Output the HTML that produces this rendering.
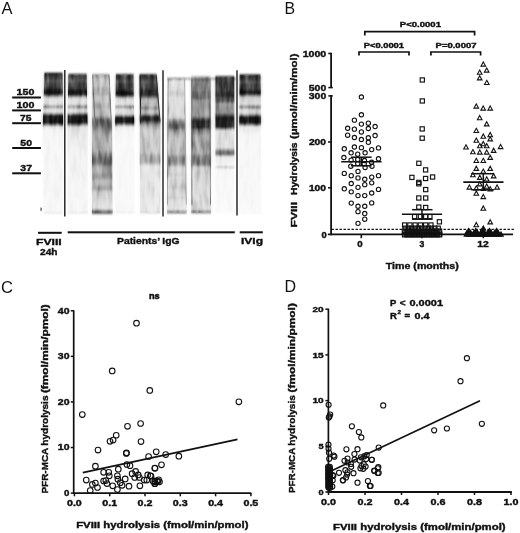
<!DOCTYPE html>
<html><head><meta charset="utf-8"><style>
html,body{margin:0;padding:0;background:#fff;width:520px;height:533px;overflow:hidden}
svg{display:block;font-family:"Liberation Sans",sans-serif}
text{fill:#111;stroke:#111;stroke-width:0.38px}
</style></head><body>
<svg width="520" height="533" viewBox="0 0 520 533">
<defs>
<linearGradient id="gL1" gradientUnits="userSpaceOnUse" x1="0" y1="73.0" x2="0" y2="213.5">
<stop offset="0.0000" stop-color="#0f0f0f"/>
<stop offset="0.0107" stop-color="#2d2d2d"/>
<stop offset="0.0285" stop-color="#464646"/>
<stop offset="0.0427" stop-color="#3e3e3e"/>
<stop offset="0.0555" stop-color="#646464"/>
<stop offset="0.0676" stop-color="#484848"/>
<stop offset="0.0925" stop-color="#424242"/>
<stop offset="0.1068" stop-color="#373737"/>
<stop offset="0.1210" stop-color="#161616"/>
<stop offset="0.1495" stop-color="#121212"/>
<stop offset="0.1601" stop-color="#505050"/>
<stop offset="0.1708" stop-color="#c8c8c8"/>
<stop offset="0.1851" stop-color="#e4e4e4"/>
<stop offset="0.2242" stop-color="#dedede"/>
<stop offset="0.2370" stop-color="#878787"/>
<stop offset="0.2470" stop-color="#969696"/>
<stop offset="0.2562" stop-color="#e1e1e1"/>
<stop offset="0.2811" stop-color="#d7d7d7"/>
<stop offset="0.2918" stop-color="#505050"/>
<stop offset="0.3025" stop-color="#191919"/>
<stop offset="0.3559" stop-color="#141414"/>
<stop offset="0.3665" stop-color="#5a5a5a"/>
<stop offset="0.3808" stop-color="#e8e8e8"/>
<stop offset="0.4057" stop-color="#f5f5f5"/>
<stop offset="0.9858" stop-color="#f8f8f8"/>
<stop offset="0.9929" stop-color="#e1e1e1"/>
<stop offset="1.0000" stop-color="#f8f8f8"/>
</linearGradient>
<linearGradient id="gL2" gradientUnits="userSpaceOnUse" x1="0" y1="74.3" x2="0" y2="213.5">
<stop offset="0.0000" stop-color="#191919"/>
<stop offset="0.0108" stop-color="#373737"/>
<stop offset="0.0338" stop-color="#484848"/>
<stop offset="0.0481" stop-color="#646464"/>
<stop offset="0.0625" stop-color="#484848"/>
<stop offset="0.0984" stop-color="#3a3a3a"/>
<stop offset="0.1164" stop-color="#161616"/>
<stop offset="0.1451" stop-color="#121212"/>
<stop offset="0.1559" stop-color="#505050"/>
<stop offset="0.1667" stop-color="#c8c8c8"/>
<stop offset="0.1810" stop-color="#e1e1e1"/>
<stop offset="0.2170" stop-color="#dcdcdc"/>
<stop offset="0.2299" stop-color="#878787"/>
<stop offset="0.2399" stop-color="#969696"/>
<stop offset="0.2493" stop-color="#dedede"/>
<stop offset="0.2744" stop-color="#d4d4d4"/>
<stop offset="0.2852" stop-color="#505050"/>
<stop offset="0.2960" stop-color="#191919"/>
<stop offset="0.3499" stop-color="#141414"/>
<stop offset="0.3606" stop-color="#5f5f5f"/>
<stop offset="0.3750" stop-color="#dedede"/>
<stop offset="0.4145" stop-color="#e8e8e8"/>
<stop offset="0.5438" stop-color="#f2f2f2"/>
<stop offset="0.9856" stop-color="#f7f7f7"/>
<stop offset="0.9928" stop-color="#dedede"/>
<stop offset="1.0000" stop-color="#f7f7f7"/>
</linearGradient>
<linearGradient id="gL3" gradientUnits="userSpaceOnUse" x1="0" y1="74.5" x2="0" y2="213.6">
<stop offset="0.0000" stop-color="#787878"/>
<stop offset="0.0079" stop-color="#afafaf"/>
<stop offset="0.0395" stop-color="#c6c6c6"/>
<stop offset="0.0827" stop-color="#c0c0c0"/>
<stop offset="0.0971" stop-color="#aaaaaa"/>
<stop offset="0.1459" stop-color="#a5a5a5"/>
<stop offset="0.1546" stop-color="#bebebe"/>
<stop offset="0.1977" stop-color="#c3c3c3"/>
<stop offset="0.2121" stop-color="#b2b2b2"/>
<stop offset="0.2408" stop-color="#b2b2b2"/>
<stop offset="0.2552" stop-color="#c3c3c3"/>
<stop offset="0.2983" stop-color="#b9b9b9"/>
<stop offset="0.3127" stop-color="#828282"/>
<stop offset="0.3307" stop-color="#585858"/>
<stop offset="0.3559" stop-color="#585858"/>
<stop offset="0.3774" stop-color="#6e6e6e"/>
<stop offset="0.4062" stop-color="#969696"/>
<stop offset="0.4349" stop-color="#acacac"/>
<stop offset="0.5428" stop-color="#aaaaaa"/>
<stop offset="0.5715" stop-color="#8c8c8c"/>
<stop offset="0.6003" stop-color="#6e6e6e"/>
<stop offset="0.6219" stop-color="#646464"/>
<stop offset="0.6434" stop-color="#6e6e6e"/>
<stop offset="0.6650" stop-color="#a5a5a5"/>
<stop offset="0.7009" stop-color="#aaaaaa"/>
<stop offset="0.7153" stop-color="#989898"/>
<stop offset="0.7441" stop-color="#989898"/>
<stop offset="0.7584" stop-color="#b6b6b6"/>
<stop offset="0.7944" stop-color="#b8b8b8"/>
<stop offset="0.8088" stop-color="#a2a2a2"/>
<stop offset="0.8267" stop-color="#a5a5a5"/>
<stop offset="0.8447" stop-color="#cdcdcd"/>
<stop offset="0.9022" stop-color="#d7d7d7"/>
<stop offset="0.9669" stop-color="#e1e1e1"/>
<stop offset="0.9827" stop-color="#505050"/>
<stop offset="1.0000" stop-color="#585858"/>
</linearGradient>
<linearGradient id="gL4" gradientUnits="userSpaceOnUse" x1="0" y1="74.4" x2="0" y2="213">
<stop offset="0.0000" stop-color="#0f0f0f"/>
<stop offset="0.0173" stop-color="#3c3c3c"/>
<stop offset="0.0404" stop-color="#464646"/>
<stop offset="0.0534" stop-color="#626262"/>
<stop offset="0.0620" stop-color="#464646"/>
<stop offset="0.1126" stop-color="#383838"/>
<stop offset="0.1234" stop-color="#161616"/>
<stop offset="0.1486" stop-color="#121212"/>
<stop offset="0.1595" stop-color="#505050"/>
<stop offset="0.1717" stop-color="#d7d7d7"/>
<stop offset="0.2172" stop-color="#e2e2e2"/>
<stop offset="0.2316" stop-color="#878787"/>
<stop offset="0.2410" stop-color="#969696"/>
<stop offset="0.2496" stop-color="#e0e0e0"/>
<stop offset="0.2893" stop-color="#d7d7d7"/>
<stop offset="0.3016" stop-color="#505050"/>
<stop offset="0.3110" stop-color="#161616"/>
<stop offset="0.3506" stop-color="#141414"/>
<stop offset="0.3615" stop-color="#646464"/>
<stop offset="0.3759" stop-color="#ececec"/>
<stop offset="0.4156" stop-color="#f8f8f8"/>
<stop offset="0.9892" stop-color="#f9f9f9"/>
<stop offset="0.9964" stop-color="#e8e8e8"/>
<stop offset="1.0000" stop-color="#f9f9f9"/>
</linearGradient>
<linearGradient id="gL5" gradientUnits="userSpaceOnUse" x1="0" y1="74.6" x2="0" y2="213">
<stop offset="0.0000" stop-color="#1e1e1e"/>
<stop offset="0.0087" stop-color="#3c3c3c"/>
<stop offset="0.0390" stop-color="#464646"/>
<stop offset="0.0535" stop-color="#555555"/>
<stop offset="0.0679" stop-color="#414141"/>
<stop offset="0.0968" stop-color="#3c3c3c"/>
<stop offset="0.1134" stop-color="#232323"/>
<stop offset="0.1510" stop-color="#202020"/>
<stop offset="0.1655" stop-color="#6e6e6e"/>
<stop offset="0.1799" stop-color="#bcbcbc"/>
<stop offset="0.2269" stop-color="#bebebe"/>
<stop offset="0.2377" stop-color="#919191"/>
<stop offset="0.2486" stop-color="#9b9b9b"/>
<stop offset="0.2594" stop-color="#bebebe"/>
<stop offset="0.2847" stop-color="#b9b9b9"/>
<stop offset="0.2955" stop-color="#464646"/>
<stop offset="0.3064" stop-color="#232323"/>
<stop offset="0.3353" stop-color="#262626"/>
<stop offset="0.3497" stop-color="#787878"/>
<stop offset="0.3714" stop-color="#b4b4b4"/>
<stop offset="0.4003" stop-color="#c8c8c8"/>
<stop offset="0.5592" stop-color="#c8c8c8"/>
<stop offset="0.5882" stop-color="#a8a8a8"/>
<stop offset="0.6315" stop-color="#a5a5a5"/>
<stop offset="0.6604" stop-color="#e4e4e4"/>
<stop offset="0.9892" stop-color="#eaeaea"/>
<stop offset="0.9964" stop-color="#cdcdcd"/>
<stop offset="1.0000" stop-color="#eaeaea"/>
</linearGradient>
<linearGradient id="gL6" gradientUnits="userSpaceOnUse" x1="0" y1="78.5" x2="0" y2="213">
<stop offset="0.0000" stop-color="#969696"/>
<stop offset="0.0082" stop-color="#d7d7d7"/>
<stop offset="0.0201" stop-color="#e1e1e1"/>
<stop offset="0.0855" stop-color="#dedede"/>
<stop offset="0.1004" stop-color="#cdcdcd"/>
<stop offset="0.1227" stop-color="#cdcdcd"/>
<stop offset="0.1375" stop-color="#dedede"/>
<stop offset="0.2937" stop-color="#d4d4d4"/>
<stop offset="0.3086" stop-color="#969696"/>
<stop offset="0.3234" stop-color="#828282"/>
<stop offset="0.3383" stop-color="#646464"/>
<stop offset="0.3680" stop-color="#5f5f5f"/>
<stop offset="0.3829" stop-color="#919191"/>
<stop offset="0.4126" stop-color="#b4b4b4"/>
<stop offset="0.4424" stop-color="#c3c3c3"/>
<stop offset="0.5613" stop-color="#c0c0c0"/>
<stop offset="0.5836" stop-color="#969696"/>
<stop offset="0.6134" stop-color="#848484"/>
<stop offset="0.6431" stop-color="#969696"/>
<stop offset="0.6580" stop-color="#cdcdcd"/>
<stop offset="0.6952" stop-color="#d0d0d0"/>
<stop offset="0.7100" stop-color="#c4c4c4"/>
<stop offset="0.7323" stop-color="#d4d4d4"/>
<stop offset="0.7918" stop-color="#dadada"/>
<stop offset="0.8067" stop-color="#d0d0d0"/>
<stop offset="0.8290" stop-color="#dcdcdc"/>
<stop offset="0.8736" stop-color="#dadada"/>
<stop offset="0.8885" stop-color="#d0d0d0"/>
<stop offset="0.9033" stop-color="#dedede"/>
<stop offset="0.9777" stop-color="#e2e2e2"/>
<stop offset="0.9888" stop-color="#6e6e6e"/>
<stop offset="1.0000" stop-color="#6e6e6e"/>
</linearGradient>
<linearGradient id="gL7" gradientUnits="userSpaceOnUse" x1="0" y1="76.5" x2="0" y2="213">
<stop offset="0.0000" stop-color="#aaaaaa"/>
<stop offset="0.0139" stop-color="#bebebe"/>
<stop offset="0.0198" stop-color="#505050"/>
<stop offset="0.0271" stop-color="#787878"/>
<stop offset="0.0989" stop-color="#767676"/>
<stop offset="0.1172" stop-color="#646464"/>
<stop offset="0.1648" stop-color="#696969"/>
<stop offset="0.1722" stop-color="#969696"/>
<stop offset="0.2894" stop-color="#969696"/>
<stop offset="0.3040" stop-color="#646464"/>
<stop offset="0.3187" stop-color="#282828"/>
<stop offset="0.3773" stop-color="#232323"/>
<stop offset="0.3919" stop-color="#6e6e6e"/>
<stop offset="0.4359" stop-color="#a5a5a5"/>
<stop offset="0.5604" stop-color="#acacac"/>
<stop offset="0.5824" stop-color="#828282"/>
<stop offset="0.6190" stop-color="#6e6e6e"/>
<stop offset="0.6484" stop-color="#7d7d7d"/>
<stop offset="0.6630" stop-color="#cecece"/>
<stop offset="0.7216" stop-color="#d4d4d4"/>
<stop offset="0.7949" stop-color="#d7d7d7"/>
<stop offset="0.9780" stop-color="#dadada"/>
<stop offset="0.9890" stop-color="#828282"/>
<stop offset="1.0000" stop-color="#828282"/>
</linearGradient>
<linearGradient id="gL8" gradientUnits="userSpaceOnUse" x1="0" y1="76.5" x2="0" y2="213">
<stop offset="0.0000" stop-color="#282828"/>
<stop offset="0.0139" stop-color="#2d2d2d"/>
<stop offset="0.0256" stop-color="#3e3e3e"/>
<stop offset="0.1062" stop-color="#3c3c3c"/>
<stop offset="0.1209" stop-color="#2d2d2d"/>
<stop offset="0.1465" stop-color="#2d2d2d"/>
<stop offset="0.1575" stop-color="#4b4b4b"/>
<stop offset="0.1868" stop-color="#4e4e4e"/>
<stop offset="0.1978" stop-color="#969696"/>
<stop offset="0.2674" stop-color="#989898"/>
<stop offset="0.2821" stop-color="#505050"/>
<stop offset="0.3004" stop-color="#1e1e1e"/>
<stop offset="0.3736" stop-color="#1e1e1e"/>
<stop offset="0.3956" stop-color="#dcdcdc"/>
<stop offset="0.5238" stop-color="#e1e1e1"/>
<stop offset="0.5385" stop-color="#969696"/>
<stop offset="0.5531" stop-color="#696969"/>
<stop offset="0.5751" stop-color="#6e6e6e"/>
<stop offset="0.5861" stop-color="#ebebeb"/>
<stop offset="0.6557" stop-color="#f5f5f5"/>
<stop offset="0.6652" stop-color="#b4b4b4"/>
<stop offset="0.6747" stop-color="#f7f7f7"/>
<stop offset="1.0000" stop-color="#fafafa"/>
</linearGradient>
<linearGradient id="gL9" gradientUnits="userSpaceOnUse" x1="0" y1="74.8" x2="0" y2="214">
<stop offset="0.0000" stop-color="#0f0f0f"/>
<stop offset="0.0122" stop-color="#323232"/>
<stop offset="0.0374" stop-color="#444444"/>
<stop offset="0.0517" stop-color="#5f5f5f"/>
<stop offset="0.0661" stop-color="#444444"/>
<stop offset="0.1020" stop-color="#373737"/>
<stop offset="0.1128" stop-color="#161616"/>
<stop offset="0.1394" stop-color="#141414"/>
<stop offset="0.1487" stop-color="#5a5a5a"/>
<stop offset="0.1595" stop-color="#cdcdcd"/>
<stop offset="0.2134" stop-color="#dedede"/>
<stop offset="0.2277" stop-color="#878787"/>
<stop offset="0.2385" stop-color="#969696"/>
<stop offset="0.2493" stop-color="#dedede"/>
<stop offset="0.2816" stop-color="#d4d4d4"/>
<stop offset="0.2924" stop-color="#505050"/>
<stop offset="0.3032" stop-color="#161616"/>
<stop offset="0.3463" stop-color="#141414"/>
<stop offset="0.3570" stop-color="#5f5f5f"/>
<stop offset="0.3714" stop-color="#eaeaea"/>
<stop offset="0.4325" stop-color="#f6f6f6"/>
<stop offset="1.0000" stop-color="#f9f9f9"/>
</linearGradient>
<filter id="halo" x="-20%" y="-20%" width="140%" height="140%"><feGaussianBlur stdDeviation="1.8"/></filter>
<filter id="gblur" x="-10%" y="-10%" width="120%" height="120%"><feGaussianBlur stdDeviation="0.6 1.1"/></filter>
<filter id="noise" x="0" y="0" width="100%" height="100%" color-interpolation-filters="sRGB"><feTurbulence type="fractalNoise" baseFrequency="0.22 0.05" numOctaves="2" seed="7" result="t"/><feColorMatrix in="t" type="matrix" values="1.3 0 0 0 -0.15  1.3 0 0 0 -0.15  1.3 0 0 0 -0.15  0 0 0 0 1"/></filter>
<clipPath id="laneclip"><polygon points="44.50,73.00 62.50,73.00 63.20,126.00 63.00,213.50 43.50,213.50 42.80,126.00"/><polygon points="68.40,74.30 86.60,74.30 87.60,126.00 87.60,213.50 67.80,213.50 67.60,126.00"/><polygon points="92.30,74.50 109.20,74.50 112.00,130.00 112.50,213.60 92.00,213.60"/><polygon points="115.90,74.40 133.50,74.40 134.30,126.00 134.30,213.00 115.40,213.00 115.20,126.00"/><polygon points="139.60,74.60 156.50,74.60 160.40,122.00 160.40,213.00 140.00,213.00"/><polygon points="167.70,78.50 184.50,78.50 186.50,213.00 167.00,213.00"/><polygon points="191.30,76.50 210.40,76.50 211.00,213.00 191.30,213.00"/><polygon points="215.50,76.50 234.30,76.50 234.30,213.00 215.50,213.00"/><polygon points="239.60,74.80 260.50,74.80 261.00,126.00 261.00,214.00 239.30,214.00 239.30,126.00"/></clipPath>
</defs>
<rect x="0" y="0" width="520" height="533" fill="#fff"/>
<g filter="url(#halo)" opacity="0.45">
<polygon points="44.50,73.00 62.50,73.00 63.20,126.00 63.00,213.50 43.50,213.50 42.80,126.00" fill="url(#gL1)"/>
<polygon points="68.40,74.30 86.60,74.30 87.60,126.00 87.60,213.50 67.80,213.50 67.60,126.00" fill="url(#gL2)"/>
<polygon points="92.30,74.50 109.20,74.50 112.00,130.00 112.50,213.60 92.00,213.60" fill="url(#gL3)"/>
<polygon points="115.90,74.40 133.50,74.40 134.30,126.00 134.30,213.00 115.40,213.00 115.20,126.00" fill="url(#gL4)"/>
<polygon points="139.60,74.60 156.50,74.60 160.40,122.00 160.40,213.00 140.00,213.00" fill="url(#gL5)"/>
<polygon points="167.70,78.50 184.50,78.50 186.50,213.00 167.00,213.00" fill="url(#gL6)"/>
<polygon points="191.30,76.50 210.40,76.50 211.00,213.00 191.30,213.00" fill="url(#gL7)"/>
<polygon points="215.50,76.50 234.30,76.50 234.30,213.00 215.50,213.00" fill="url(#gL8)"/>
<polygon points="239.60,74.80 260.50,74.80 261.00,126.00 261.00,214.00 239.30,214.00 239.30,126.00" fill="url(#gL9)"/>
</g>
<g filter="url(#gblur)">
<polygon points="44.50,73.00 62.50,73.00 63.20,126.00 63.00,213.50 43.50,213.50 42.80,126.00" fill="url(#gL1)"/>
<polygon points="68.40,74.30 86.60,74.30 87.60,126.00 87.60,213.50 67.80,213.50 67.60,126.00" fill="url(#gL2)"/>
<polygon points="92.30,74.50 109.20,74.50 112.00,130.00 112.50,213.60 92.00,213.60" fill="url(#gL3)"/>
<polygon points="115.90,74.40 133.50,74.40 134.30,126.00 134.30,213.00 115.40,213.00 115.20,126.00" fill="url(#gL4)"/>
<polygon points="139.60,74.60 156.50,74.60 160.40,122.00 160.40,213.00 140.00,213.00" fill="url(#gL5)"/>
<polygon points="167.70,78.50 184.50,78.50 186.50,213.00 167.00,213.00" fill="url(#gL6)"/>
<polygon points="191.30,76.50 210.40,76.50 211.00,213.00 191.30,213.00" fill="url(#gL7)"/>
<polygon points="215.50,76.50 234.30,76.50 234.30,213.00 215.50,213.00" fill="url(#gL8)"/>
<polygon points="239.60,74.80 260.50,74.80 261.00,126.00 261.00,214.00 239.30,214.00 239.30,126.00" fill="url(#gL9)"/>
<line x1="92.8" y1="75" x2="95" y2="130" stroke="#777" stroke-width="1.0"/>
<line x1="109.0" y1="75" x2="111.6" y2="130" stroke="#777" stroke-width="1.0"/>
<line x1="140.2" y1="75" x2="140.6" y2="124" stroke="#222" stroke-width="1.2"/>
<line x1="156.3" y1="75" x2="160" y2="122" stroke="#333" stroke-width="1.0"/>
<line x1="168.2" y1="79" x2="167.4" y2="205" stroke="#8a8a8a" stroke-width="0.8"/>
<line x1="184.6" y1="79" x2="186.3" y2="205" stroke="#9a9a9a" stroke-width="0.8"/>
<line x1="191.9" y1="79" x2="191.9" y2="205" stroke="#6a6a6a" stroke-width="0.9"/>
<line x1="209.8" y1="79" x2="210.5" y2="205" stroke="#777" stroke-width="0.9"/>
<line x1="167" y1="78.8" x2="236" y2="78.8" stroke="#444" stroke-width="0.9"/>
</g>
<g clip-path="url(#laneclip)" style="mix-blend-mode:soft-light" opacity="0.9"><rect x="40" y="70" width="225" height="146" filter="url(#noise)"/></g>
<rect x="40.3" y="207.6" width="1.6" height="3.2" fill="#777"/>
<line x1="64.8" y1="70.0" x2="64.8" y2="216.5" stroke="#1a1a1a" stroke-width="1.4"/>
<line x1="163.0" y1="70.3" x2="163.0" y2="216.4" stroke="#1a1a1a" stroke-width="1.4"/>
<line x1="237.0" y1="70.2" x2="237.0" y2="215.6" stroke="#1a1a1a" stroke-width="1.4"/>
<text x="1.60" y="13.90" font-size="16.4" font-weight="normal" textLength="11.00" lengthAdjust="spacingAndGlyphs" style="stroke:none">A</text>
<text x="284.60" y="13.90" font-size="16.4" font-weight="normal" textLength="10.60" lengthAdjust="spacingAndGlyphs" style="stroke:none">B</text>
<text x="0.90" y="292.50" font-size="15.6" font-weight="normal" textLength="12.00" lengthAdjust="spacingAndGlyphs" style="stroke:none">C</text>
<text x="284.40" y="292.20" font-size="15.6" font-weight="normal" textLength="11.60" lengthAdjust="spacingAndGlyphs" style="stroke:none">D</text>
<rect x="12.20" y="96.50" width="28.70" height="2.00" fill="#111"/>
<rect x="12.20" y="109.40" width="28.70" height="2.00" fill="#111"/>
<rect x="12.20" y="122.20" width="28.70" height="2.00" fill="#111"/>
<rect x="12.20" y="147.00" width="28.70" height="2.00" fill="#111"/>
<rect x="12.20" y="172.30" width="28.70" height="2.00" fill="#111"/>
<text x="16.50" y="95.00" font-size="9.2" font-weight="bold" textLength="17.90" lengthAdjust="spacingAndGlyphs">150</text>
<text x="16.50" y="107.80" font-size="9.2" font-weight="bold" textLength="17.90" lengthAdjust="spacingAndGlyphs">100</text>
<text x="20.00" y="121.00" font-size="9.2" font-weight="bold" textLength="11.40" lengthAdjust="spacingAndGlyphs">75</text>
<text x="20.30" y="145.70" font-size="9.2" font-weight="bold" textLength="11.70" lengthAdjust="spacingAndGlyphs">50</text>
<text x="20.30" y="171.00" font-size="9.2" font-weight="bold" textLength="11.70" lengthAdjust="spacingAndGlyphs">37</text>
<rect x="38.00" y="231.80" width="23.70" height="2.00" fill="#111"/>
<rect x="67.70" y="231.30" width="167.10" height="2.00" fill="#111"/>
<rect x="239.70" y="231.30" width="23.10" height="2.00" fill="#111"/>
<text x="36.00" y="245.00" font-size="9.5" font-weight="bold" textLength="25.70" lengthAdjust="spacingAndGlyphs">FVIII</text>
<text x="40.00" y="255.40" font-size="9.6" font-weight="bold" textLength="17.50" lengthAdjust="spacingAndGlyphs">24h</text>
<text x="117.00" y="244.40" font-size="9.5" font-weight="bold" textLength="62.60" lengthAdjust="spacingAndGlyphs">Patients’ IgG</text>
<text x="241.00" y="244.40" font-size="9.5" font-weight="bold" textLength="22.00" lengthAdjust="spacingAndGlyphs">IVIg</text>
<polyline points="364.80,35.50 364.80,31.70 474.60,31.70 474.60,35.50" fill="none" stroke="#111" stroke-width="1.7" stroke-linejoin="miter"/>
<polyline points="359.00,55.60 359.00,52.00 409.00,52.00 409.00,55.60" fill="none" stroke="#111" stroke-width="1.7" stroke-linejoin="miter"/>
<polyline points="430.90,55.60 430.90,52.00 480.60,52.00 480.60,55.60" fill="none" stroke="#111" stroke-width="1.7" stroke-linejoin="miter"/>
<text x="399.80" y="26.60" font-size="7.6" font-weight="bold" textLength="41.20" lengthAdjust="spacingAndGlyphs">P&lt;0.0001</text>
<text x="363.70" y="47.90" font-size="7.6" font-weight="bold" textLength="40.30" lengthAdjust="spacingAndGlyphs">P&lt;0.0001</text>
<text x="435.60" y="47.70" font-size="7.6" font-weight="bold" textLength="40.90" lengthAdjust="spacingAndGlyphs">P=0.0007</text>
<line x1="331.10" y1="52.70" x2="331.10" y2="87.60" stroke="#111" stroke-width="1.8"/>
<line x1="328.30" y1="53.50" x2="331.10" y2="53.50" stroke="#111" stroke-width="1.6"/>
<line x1="328.30" y1="87.60" x2="332.80" y2="87.60" stroke="#111" stroke-width="1.5"/>
<line x1="328.30" y1="95.90" x2="332.80" y2="95.90" stroke="#111" stroke-width="1.5"/>
<line x1="331.10" y1="95.20" x2="331.10" y2="235.20" stroke="#111" stroke-width="1.8"/>
<line x1="328.00" y1="142.00" x2="331.10" y2="142.00" stroke="#111" stroke-width="1.5"/>
<line x1="328.00" y1="187.80" x2="331.10" y2="187.80" stroke="#111" stroke-width="1.5"/>
<line x1="327.90" y1="234.40" x2="513.00" y2="234.40" stroke="#111" stroke-width="1.8"/>
<line x1="361.30" y1="234.40" x2="361.30" y2="238.20" stroke="#111" stroke-width="1.6"/>
<line x1="422.00" y1="234.40" x2="422.00" y2="238.20" stroke="#111" stroke-width="1.6"/>
<line x1="483.30" y1="234.40" x2="483.30" y2="238.20" stroke="#111" stroke-width="1.6"/>
<line x1="331.50" y1="229.40" x2="514.00" y2="229.40" stroke="#111" stroke-width="1.2" stroke-dasharray="2.4,1.6"/>
<text x="302.70" y="56.60" font-size="8.2" font-weight="bold" textLength="23.50" lengthAdjust="spacingAndGlyphs">1000</text>
<text x="308.80" y="90.80" font-size="8.2" font-weight="bold" textLength="17.40" lengthAdjust="spacingAndGlyphs">500</text>
<text x="308.80" y="98.80" font-size="8.2" font-weight="bold" textLength="17.40" lengthAdjust="spacingAndGlyphs">300</text>
<text x="308.90" y="145.30" font-size="8.2" font-weight="bold" textLength="17.10" lengthAdjust="spacingAndGlyphs">200</text>
<text x="308.90" y="190.70" font-size="8.2" font-weight="bold" textLength="17.10" lengthAdjust="spacingAndGlyphs">100</text>
<text x="321.50" y="237.50" font-size="8.2" font-weight="bold" textLength="5.20" lengthAdjust="spacingAndGlyphs">0</text>
<text x="357.30" y="246.70" font-size="8.6" font-weight="bold" textLength="5.40" lengthAdjust="spacingAndGlyphs">0</text>
<text x="419.60" y="246.80" font-size="8.6" font-weight="bold" textLength="4.80" lengthAdjust="spacingAndGlyphs">3</text>
<text x="477.30" y="246.80" font-size="8.6" font-weight="bold" textLength="11.50" lengthAdjust="spacingAndGlyphs">12</text>
<text x="385.80" y="268.80" font-size="9.4" font-weight="bold" textLength="73.00" lengthAdjust="spacingAndGlyphs">Time (months)</text>
<text transform="translate(297.30,227.50) rotate(-90)" x="0" y="0" font-size="9.8" font-weight="bold" textLength="25.60" lengthAdjust="spacingAndGlyphs">FVIII</text>
<text transform="translate(297.30,195.00) rotate(-90)" x="0" y="0" font-size="9.8" font-weight="bold" textLength="52.50" lengthAdjust="spacingAndGlyphs">Hydrolysis</text>
<text transform="translate(297.30,138.90) rotate(-90)" x="0" y="0" font-size="9.8" font-weight="bold" textLength="85.40" lengthAdjust="spacingAndGlyphs">(µmol/mim/mol)</text>
<line x1="73.70" y1="310.20" x2="73.70" y2="493.90" stroke="#111" stroke-width="1.7"/>
<line x1="73.00" y1="493.10" x2="251.30" y2="493.10" stroke="#111" stroke-width="1.8"/>
<line x1="70.80" y1="493.10" x2="73.70" y2="493.10" stroke="#111" stroke-width="1.5"/>
<line x1="70.80" y1="447.52" x2="73.70" y2="447.52" stroke="#111" stroke-width="1.5"/>
<line x1="70.80" y1="401.94" x2="73.70" y2="401.94" stroke="#111" stroke-width="1.5"/>
<line x1="70.80" y1="356.36" x2="73.70" y2="356.36" stroke="#111" stroke-width="1.5"/>
<line x1="70.80" y1="310.78" x2="73.70" y2="310.78" stroke="#111" stroke-width="1.5"/>
<line x1="74.40" y1="493.10" x2="74.40" y2="496.30" stroke="#111" stroke-width="1.5"/>
<line x1="109.70" y1="493.10" x2="109.70" y2="496.30" stroke="#111" stroke-width="1.5"/>
<line x1="145.00" y1="493.10" x2="145.00" y2="496.30" stroke="#111" stroke-width="1.5"/>
<line x1="180.30" y1="493.10" x2="180.30" y2="496.30" stroke="#111" stroke-width="1.5"/>
<line x1="215.60" y1="493.10" x2="215.60" y2="496.30" stroke="#111" stroke-width="1.5"/>
<line x1="250.90" y1="493.10" x2="250.90" y2="496.30" stroke="#111" stroke-width="1.5"/>
<text x="57.80" y="313.53" font-size="8.2" font-weight="bold" textLength="11.70" lengthAdjust="spacingAndGlyphs">40</text>
<text x="57.80" y="359.11" font-size="8.2" font-weight="bold" textLength="11.70" lengthAdjust="spacingAndGlyphs">30</text>
<text x="57.80" y="404.69" font-size="8.2" font-weight="bold" textLength="11.70" lengthAdjust="spacingAndGlyphs">20</text>
<text x="57.80" y="450.27" font-size="8.2" font-weight="bold" textLength="11.70" lengthAdjust="spacingAndGlyphs">10</text>
<text x="64.10" y="495.85" font-size="8.2" font-weight="bold" textLength="5.40" lengthAdjust="spacingAndGlyphs">0</text>
<text x="66.95" y="505.60" font-size="8.4" font-weight="bold" textLength="14.90" lengthAdjust="spacingAndGlyphs">0.0</text>
<text x="102.25" y="505.60" font-size="8.4" font-weight="bold" textLength="14.90" lengthAdjust="spacingAndGlyphs">0.1</text>
<text x="137.55" y="505.60" font-size="8.4" font-weight="bold" textLength="14.90" lengthAdjust="spacingAndGlyphs">0.2</text>
<text x="172.85" y="505.60" font-size="8.4" font-weight="bold" textLength="14.90" lengthAdjust="spacingAndGlyphs">0.3</text>
<text x="208.15" y="505.60" font-size="8.4" font-weight="bold" textLength="14.90" lengthAdjust="spacingAndGlyphs">0.4</text>
<text x="243.45" y="505.60" font-size="8.4" font-weight="bold" textLength="14.90" lengthAdjust="spacingAndGlyphs">0.5</text>
<text x="148.90" y="298.50" font-size="9.6" font-weight="bold" textLength="10.80" lengthAdjust="spacingAndGlyphs" style="stroke-width:0.55px">ns</text>
<text x="76.20" y="528.10" font-size="9.2" font-weight="bold" textLength="172.30" lengthAdjust="spacingAndGlyphs">FVIII hydrolysis (fmol/min/pmol)</text>
<text transform="translate(47.50,493.50) rotate(-90)" x="0" y="0" font-size="9.3" font-weight="bold" textLength="45.80" lengthAdjust="spacingAndGlyphs">PFR-MCA</text>
<text transform="translate(47.50,445.70) rotate(-90)" x="0" y="0" font-size="9.3" font-weight="bold" textLength="50.20" lengthAdjust="spacingAndGlyphs">hydrolysis</text>
<text transform="translate(47.50,393.10) rotate(-90)" x="0" y="0" font-size="9.3" font-weight="bold" textLength="88.80" lengthAdjust="spacingAndGlyphs">(fmol/min/pmol)</text>
<line x1="328.40" y1="308.60" x2="328.40" y2="492.80" stroke="#111" stroke-width="1.7"/>
<line x1="327.60" y1="492.00" x2="511.80" y2="492.00" stroke="#111" stroke-width="1.8"/>
<line x1="325.40" y1="492.00" x2="328.40" y2="492.00" stroke="#111" stroke-width="1.5"/>
<line x1="325.40" y1="446.30" x2="328.40" y2="446.30" stroke="#111" stroke-width="1.5"/>
<line x1="325.40" y1="400.60" x2="328.40" y2="400.60" stroke="#111" stroke-width="1.5"/>
<line x1="325.40" y1="354.90" x2="328.40" y2="354.90" stroke="#111" stroke-width="1.5"/>
<line x1="325.40" y1="309.20" x2="328.40" y2="309.20" stroke="#111" stroke-width="1.5"/>
<line x1="328.50" y1="492.00" x2="328.50" y2="495.00" stroke="#111" stroke-width="1.5"/>
<line x1="365.00" y1="492.00" x2="365.00" y2="495.00" stroke="#111" stroke-width="1.5"/>
<line x1="401.50" y1="492.00" x2="401.50" y2="495.00" stroke="#111" stroke-width="1.5"/>
<line x1="438.00" y1="492.00" x2="438.00" y2="495.00" stroke="#111" stroke-width="1.5"/>
<line x1="474.50" y1="492.00" x2="474.50" y2="495.00" stroke="#111" stroke-width="1.5"/>
<line x1="511.00" y1="492.00" x2="511.00" y2="495.00" stroke="#111" stroke-width="1.5"/>
<text x="312.50" y="312.00" font-size="8.0" font-weight="bold" textLength="11.20" lengthAdjust="spacingAndGlyphs">20</text>
<text x="312.50" y="357.70" font-size="8.0" font-weight="bold" textLength="11.20" lengthAdjust="spacingAndGlyphs">15</text>
<text x="312.50" y="403.40" font-size="8.0" font-weight="bold" textLength="11.20" lengthAdjust="spacingAndGlyphs">10</text>
<text x="318.60" y="449.10" font-size="8.0" font-weight="bold" textLength="5.10" lengthAdjust="spacingAndGlyphs">5</text>
<text x="318.60" y="494.80" font-size="8.0" font-weight="bold" textLength="5.10" lengthAdjust="spacingAndGlyphs">0</text>
<text x="321.00" y="505.00" font-size="8.4" font-weight="bold" textLength="15.00" lengthAdjust="spacingAndGlyphs">0.0</text>
<text x="357.50" y="505.00" font-size="8.4" font-weight="bold" textLength="15.00" lengthAdjust="spacingAndGlyphs">0.2</text>
<text x="394.00" y="505.00" font-size="8.4" font-weight="bold" textLength="15.00" lengthAdjust="spacingAndGlyphs">0.4</text>
<text x="430.50" y="505.00" font-size="8.4" font-weight="bold" textLength="15.00" lengthAdjust="spacingAndGlyphs">0.6</text>
<text x="467.00" y="505.00" font-size="8.4" font-weight="bold" textLength="15.00" lengthAdjust="spacingAndGlyphs">0.8</text>
<text x="503.50" y="505.00" font-size="8.4" font-weight="bold" textLength="15.00" lengthAdjust="spacingAndGlyphs">1.0</text>
<text x="390.00" y="306.25" font-size="8.7" font-weight="bold" textLength="6.25" lengthAdjust="spacingAndGlyphs">P</text>
<text x="399.75" y="306.25" font-size="8.7" font-weight="bold" textLength="5.85" lengthAdjust="spacingAndGlyphs">&lt;</text>
<text x="409.40" y="306.25" font-size="8.7" font-weight="bold" textLength="33.70" lengthAdjust="spacingAndGlyphs">0.0001</text>
<text x="390.00" y="318.75" font-size="8.7" font-weight="bold" textLength="6.90" lengthAdjust="spacingAndGlyphs">R</text>
<text x="397.50" y="313.75" font-size="5.6" font-weight="bold" textLength="3.50" lengthAdjust="spacingAndGlyphs">2</text>
<text x="404.40" y="318.75" font-size="8.7" font-weight="bold" textLength="5.60" lengthAdjust="spacingAndGlyphs">=</text>
<text x="414.40" y="318.75" font-size="8.7" font-weight="bold" textLength="15.00" lengthAdjust="spacingAndGlyphs">0.4</text>
<text x="333.00" y="530.00" font-size="9.2" font-weight="bold" textLength="172.60" lengthAdjust="spacingAndGlyphs">FVIII hydrolysis (fmol/min/pmol)</text>
<text transform="translate(295.20,493.00) rotate(-90)" x="0" y="0" font-size="9.3" font-weight="bold" textLength="45.30" lengthAdjust="spacingAndGlyphs">PFR-MCA</text>
<text transform="translate(295.20,445.70) rotate(-90)" x="0" y="0" font-size="9.3" font-weight="bold" textLength="50.60" lengthAdjust="spacingAndGlyphs">hydrolysis</text>
<text transform="translate(295.20,392.50) rotate(-90)" x="0" y="0" font-size="9.3" font-weight="bold" textLength="89.40" lengthAdjust="spacingAndGlyphs">(fmol/min/pmol)</text>
<circle cx="361.40" cy="97.00" r="2.15" fill="none" stroke="#111" stroke-width="1.1"/>
<circle cx="361.40" cy="114.75" r="2.15" fill="none" stroke="#111" stroke-width="1.1"/>
<circle cx="354.40" cy="120.15" r="2.15" fill="none" stroke="#111" stroke-width="1.1"/>
<circle cx="361.40" cy="124.10" r="2.15" fill="none" stroke="#111" stroke-width="1.1"/>
<circle cx="368.35" cy="123.20" r="2.15" fill="none" stroke="#111" stroke-width="1.1"/>
<circle cx="347.65" cy="128.25" r="2.15" fill="none" stroke="#111" stroke-width="1.1"/>
<circle cx="354.40" cy="129.15" r="2.15" fill="none" stroke="#111" stroke-width="1.1"/>
<circle cx="368.35" cy="128.50" r="2.15" fill="none" stroke="#111" stroke-width="1.1"/>
<circle cx="375.10" cy="126.55" r="2.15" fill="none" stroke="#111" stroke-width="1.1"/>
<circle cx="361.40" cy="131.95" r="2.15" fill="none" stroke="#111" stroke-width="1.1"/>
<circle cx="347.65" cy="135.20" r="2.15" fill="none" stroke="#111" stroke-width="1.1"/>
<circle cx="354.40" cy="137.50" r="2.15" fill="none" stroke="#111" stroke-width="1.1"/>
<circle cx="361.40" cy="139.50" r="2.15" fill="none" stroke="#111" stroke-width="1.1"/>
<circle cx="368.35" cy="137.80" r="2.15" fill="none" stroke="#111" stroke-width="1.1"/>
<circle cx="375.10" cy="135.55" r="2.15" fill="none" stroke="#111" stroke-width="1.1"/>
<circle cx="368.35" cy="142.30" r="2.15" fill="none" stroke="#111" stroke-width="1.1"/>
<circle cx="344.30" cy="148.80" r="2.15" fill="none" stroke="#111" stroke-width="1.1"/>
<circle cx="354.40" cy="147.00" r="2.15" fill="none" stroke="#111" stroke-width="1.1"/>
<circle cx="361.40" cy="147.65" r="2.15" fill="none" stroke="#111" stroke-width="1.1"/>
<circle cx="371.70" cy="149.60" r="2.15" fill="none" stroke="#111" stroke-width="1.1"/>
<circle cx="378.50" cy="147.90" r="2.15" fill="none" stroke="#111" stroke-width="1.1"/>
<circle cx="351.10" cy="152.80" r="2.15" fill="none" stroke="#111" stroke-width="1.1"/>
<circle cx="357.70" cy="154.20" r="2.15" fill="none" stroke="#111" stroke-width="1.1"/>
<circle cx="365.10" cy="152.80" r="2.15" fill="none" stroke="#111" stroke-width="1.1"/>
<circle cx="343.90" cy="157.50" r="2.15" fill="none" stroke="#111" stroke-width="1.1"/>
<circle cx="378.50" cy="158.80" r="2.15" fill="none" stroke="#111" stroke-width="1.1"/>
<circle cx="351.10" cy="160.10" r="2.15" fill="none" stroke="#111" stroke-width="1.1"/>
<circle cx="357.70" cy="159.50" r="2.15" fill="none" stroke="#111" stroke-width="1.1"/>
<circle cx="364.50" cy="160.50" r="2.15" fill="none" stroke="#111" stroke-width="1.1"/>
<circle cx="371.60" cy="162.30" r="2.15" fill="none" stroke="#111" stroke-width="1.1"/>
<circle cx="350.80" cy="166.20" r="2.15" fill="none" stroke="#111" stroke-width="1.1"/>
<circle cx="357.70" cy="163.60" r="2.15" fill="none" stroke="#111" stroke-width="1.1"/>
<circle cx="364.20" cy="163.80" r="2.15" fill="none" stroke="#111" stroke-width="1.1"/>
<circle cx="365.10" cy="167.50" r="2.15" fill="none" stroke="#111" stroke-width="1.1"/>
<circle cx="372.00" cy="166.20" r="2.15" fill="none" stroke="#111" stroke-width="1.1"/>
<circle cx="358.00" cy="171.40" r="2.15" fill="none" stroke="#111" stroke-width="1.1"/>
<circle cx="344.30" cy="173.40" r="2.15" fill="none" stroke="#111" stroke-width="1.1"/>
<circle cx="351.25" cy="175.65" r="2.15" fill="none" stroke="#111" stroke-width="1.1"/>
<circle cx="358.00" cy="177.90" r="2.15" fill="none" stroke="#111" stroke-width="1.1"/>
<circle cx="364.75" cy="179.25" r="2.15" fill="none" stroke="#111" stroke-width="1.1"/>
<circle cx="371.70" cy="177.20" r="2.15" fill="none" stroke="#111" stroke-width="1.1"/>
<circle cx="378.50" cy="175.65" r="2.15" fill="none" stroke="#111" stroke-width="1.1"/>
<circle cx="351.25" cy="183.50" r="2.15" fill="none" stroke="#111" stroke-width="1.1"/>
<circle cx="364.75" cy="184.65" r="2.15" fill="none" stroke="#111" stroke-width="1.1"/>
<circle cx="371.70" cy="182.85" r="2.15" fill="none" stroke="#111" stroke-width="1.1"/>
<circle cx="344.30" cy="188.80" r="2.15" fill="none" stroke="#111" stroke-width="1.1"/>
<circle cx="358.00" cy="187.35" r="2.15" fill="none" stroke="#111" stroke-width="1.1"/>
<circle cx="378.50" cy="189.40" r="2.15" fill="none" stroke="#111" stroke-width="1.1"/>
<circle cx="351.25" cy="191.85" r="2.15" fill="none" stroke="#111" stroke-width="1.1"/>
<circle cx="358.00" cy="195.60" r="2.15" fill="none" stroke="#111" stroke-width="1.1"/>
<circle cx="364.75" cy="195.60" r="2.15" fill="none" stroke="#111" stroke-width="1.1"/>
<circle cx="371.70" cy="193.00" r="2.15" fill="none" stroke="#111" stroke-width="1.1"/>
<circle cx="351.25" cy="203.10" r="2.15" fill="none" stroke="#111" stroke-width="1.1"/>
<circle cx="358.00" cy="206.25" r="2.15" fill="none" stroke="#111" stroke-width="1.1"/>
<circle cx="364.75" cy="206.25" r="2.15" fill="none" stroke="#111" stroke-width="1.1"/>
<circle cx="371.70" cy="202.90" r="2.15" fill="none" stroke="#111" stroke-width="1.1"/>
<circle cx="358.00" cy="211.65" r="2.15" fill="none" stroke="#111" stroke-width="1.1"/>
<circle cx="364.75" cy="213.55" r="2.15" fill="none" stroke="#111" stroke-width="1.1"/>
<circle cx="364.75" cy="219.20" r="2.15" fill="none" stroke="#111" stroke-width="1.1"/>
<circle cx="358.00" cy="223.35" r="2.15" fill="none" stroke="#111" stroke-width="1.1"/>
<line x1="341.20" y1="161.70" x2="381.60" y2="161.70" stroke="#111" stroke-width="1.6"/>
<line x1="351.00" y1="157.20" x2="371.60" y2="157.20" stroke="#111" stroke-width="1.5"/>
<line x1="351.00" y1="165.80" x2="371.60" y2="165.80" stroke="#111" stroke-width="1.5"/>
<line x1="361.30" y1="157.20" x2="361.30" y2="165.80" stroke="#111" stroke-width="1.5"/>
<rect x="420.20" y="77.85" width="4.2" height="4.2" fill="none" stroke="#111" stroke-width="1.15"/>
<rect x="420.20" y="98.85" width="4.2" height="4.2" fill="none" stroke="#111" stroke-width="1.15"/>
<rect x="420.10" y="126.80" width="4.2" height="4.2" fill="none" stroke="#111" stroke-width="1.15"/>
<rect x="420.10" y="136.10" width="4.2" height="4.2" fill="none" stroke="#111" stroke-width="1.15"/>
<rect x="416.75" y="161.20" width="4.2" height="4.2" fill="none" stroke="#111" stroke-width="1.15"/>
<rect x="423.50" y="167.80" width="4.2" height="4.2" fill="none" stroke="#111" stroke-width="1.15"/>
<rect x="409.80" y="175.30" width="4.2" height="4.2" fill="none" stroke="#111" stroke-width="1.15"/>
<rect x="423.50" y="176.40" width="4.2" height="4.2" fill="none" stroke="#111" stroke-width="1.15"/>
<rect x="430.50" y="174.90" width="4.2" height="4.2" fill="none" stroke="#111" stroke-width="1.15"/>
<rect x="416.70" y="180.30" width="4.2" height="4.2" fill="none" stroke="#111" stroke-width="1.15"/>
<rect x="416.70" y="181.70" width="4.2" height="4.2" fill="none" stroke="#111" stroke-width="1.15"/>
<rect x="423.60" y="187.50" width="4.2" height="4.2" fill="none" stroke="#111" stroke-width="1.15"/>
<rect x="416.70" y="195.90" width="4.2" height="4.2" fill="none" stroke="#111" stroke-width="1.15"/>
<rect x="423.60" y="195.90" width="4.2" height="4.2" fill="none" stroke="#111" stroke-width="1.15"/>
<rect x="416.70" y="205.00" width="4.2" height="4.2" fill="none" stroke="#111" stroke-width="1.15"/>
<rect x="423.60" y="205.40" width="4.2" height="4.2" fill="none" stroke="#111" stroke-width="1.15"/>
<rect x="412.50" y="214.50" width="4.2" height="4.2" fill="none" stroke="#111" stroke-width="1.15"/>
<rect x="418.30" y="214.50" width="4.2" height="4.2" fill="none" stroke="#111" stroke-width="1.15"/>
<rect x="423.60" y="214.50" width="4.2" height="4.2" fill="none" stroke="#111" stroke-width="1.15"/>
<rect x="427.80" y="214.50" width="4.2" height="4.2" fill="none" stroke="#111" stroke-width="1.15"/>
<rect x="437.30" y="219.70" width="4.2" height="4.2" fill="none" stroke="#111" stroke-width="1.15"/>
<rect x="402.50" y="222.90" width="4.2" height="4.2" fill="none" stroke="#111" stroke-width="1.15"/>
<rect x="407.77" y="222.90" width="4.2" height="4.2" fill="none" stroke="#111" stroke-width="1.15"/>
<rect x="413.04" y="222.90" width="4.2" height="4.2" fill="none" stroke="#111" stroke-width="1.15"/>
<rect x="418.31" y="222.90" width="4.2" height="4.2" fill="none" stroke="#111" stroke-width="1.15"/>
<rect x="423.58" y="222.90" width="4.2" height="4.2" fill="none" stroke="#111" stroke-width="1.15"/>
<rect x="428.85" y="222.90" width="4.2" height="4.2" fill="none" stroke="#111" stroke-width="1.15"/>
<rect x="403.10" y="226.10" width="4.2" height="4.2" fill="none" stroke="#111" stroke-width="1.15"/>
<rect x="406.40" y="226.10" width="4.2" height="4.2" fill="none" stroke="#111" stroke-width="1.15"/>
<rect x="409.70" y="226.10" width="4.2" height="4.2" fill="none" stroke="#111" stroke-width="1.15"/>
<rect x="413.00" y="226.10" width="4.2" height="4.2" fill="none" stroke="#111" stroke-width="1.15"/>
<rect x="416.30" y="226.10" width="4.2" height="4.2" fill="none" stroke="#111" stroke-width="1.15"/>
<rect x="419.60" y="226.10" width="4.2" height="4.2" fill="none" stroke="#111" stroke-width="1.15"/>
<rect x="422.90" y="226.10" width="4.2" height="4.2" fill="none" stroke="#111" stroke-width="1.15"/>
<rect x="426.20" y="226.10" width="4.2" height="4.2" fill="none" stroke="#111" stroke-width="1.15"/>
<rect x="429.50" y="226.10" width="4.2" height="4.2" fill="none" stroke="#111" stroke-width="1.15"/>
<rect x="432.80" y="226.10" width="4.2" height="4.2" fill="none" stroke="#111" stroke-width="1.15"/>
<rect x="436.10" y="226.10" width="4.2" height="4.2" fill="none" stroke="#111" stroke-width="1.15"/>
<rect x="402.30" y="229.10" width="4.2" height="4.2" fill="none" stroke="#111" stroke-width="1.15"/>
<rect x="405.23" y="229.10" width="4.2" height="4.2" fill="none" stroke="#111" stroke-width="1.15"/>
<rect x="408.16" y="229.10" width="4.2" height="4.2" fill="none" stroke="#111" stroke-width="1.15"/>
<rect x="411.09" y="229.10" width="4.2" height="4.2" fill="none" stroke="#111" stroke-width="1.15"/>
<rect x="414.02" y="229.10" width="4.2" height="4.2" fill="none" stroke="#111" stroke-width="1.15"/>
<rect x="416.95" y="229.10" width="4.2" height="4.2" fill="none" stroke="#111" stroke-width="1.15"/>
<rect x="419.88" y="229.10" width="4.2" height="4.2" fill="none" stroke="#111" stroke-width="1.15"/>
<rect x="422.81" y="229.10" width="4.2" height="4.2" fill="none" stroke="#111" stroke-width="1.15"/>
<rect x="425.74" y="229.10" width="4.2" height="4.2" fill="none" stroke="#111" stroke-width="1.15"/>
<rect x="428.67" y="229.10" width="4.2" height="4.2" fill="none" stroke="#111" stroke-width="1.15"/>
<rect x="431.60" y="229.10" width="4.2" height="4.2" fill="none" stroke="#111" stroke-width="1.15"/>
<rect x="434.53" y="229.10" width="4.2" height="4.2" fill="none" stroke="#111" stroke-width="1.15"/>
<rect x="437.46" y="229.10" width="4.2" height="4.2" fill="none" stroke="#111" stroke-width="1.15"/>
<rect x="402.50" y="231.90" width="4.2" height="4.2" fill="none" stroke="#111" stroke-width="1.15"/>
<rect x="405.00" y="231.90" width="4.2" height="4.2" fill="none" stroke="#111" stroke-width="1.15"/>
<rect x="407.50" y="231.90" width="4.2" height="4.2" fill="none" stroke="#111" stroke-width="1.15"/>
<rect x="410.00" y="231.90" width="4.2" height="4.2" fill="none" stroke="#111" stroke-width="1.15"/>
<rect x="412.50" y="231.90" width="4.2" height="4.2" fill="none" stroke="#111" stroke-width="1.15"/>
<rect x="415.00" y="231.90" width="4.2" height="4.2" fill="none" stroke="#111" stroke-width="1.15"/>
<rect x="417.50" y="231.90" width="4.2" height="4.2" fill="none" stroke="#111" stroke-width="1.15"/>
<rect x="420.00" y="231.90" width="4.2" height="4.2" fill="none" stroke="#111" stroke-width="1.15"/>
<rect x="422.50" y="231.90" width="4.2" height="4.2" fill="none" stroke="#111" stroke-width="1.15"/>
<rect x="425.00" y="231.90" width="4.2" height="4.2" fill="none" stroke="#111" stroke-width="1.15"/>
<rect x="427.50" y="231.90" width="4.2" height="4.2" fill="none" stroke="#111" stroke-width="1.15"/>
<rect x="430.00" y="231.90" width="4.2" height="4.2" fill="none" stroke="#111" stroke-width="1.15"/>
<rect x="432.50" y="231.90" width="4.2" height="4.2" fill="none" stroke="#111" stroke-width="1.15"/>
<rect x="435.00" y="231.90" width="4.2" height="4.2" fill="none" stroke="#111" stroke-width="1.15"/>
<rect x="437.50" y="231.90" width="4.2" height="4.2" fill="none" stroke="#111" stroke-width="1.15"/>
<rect x="402.50" y="232.70" width="4.2" height="4.2" fill="none" stroke="#111" stroke-width="1.15"/>
<rect x="405.00" y="232.70" width="4.2" height="4.2" fill="none" stroke="#111" stroke-width="1.15"/>
<rect x="407.50" y="232.70" width="4.2" height="4.2" fill="none" stroke="#111" stroke-width="1.15"/>
<rect x="410.00" y="232.70" width="4.2" height="4.2" fill="none" stroke="#111" stroke-width="1.15"/>
<rect x="412.50" y="232.70" width="4.2" height="4.2" fill="none" stroke="#111" stroke-width="1.15"/>
<rect x="415.00" y="232.70" width="4.2" height="4.2" fill="none" stroke="#111" stroke-width="1.15"/>
<rect x="417.50" y="232.70" width="4.2" height="4.2" fill="none" stroke="#111" stroke-width="1.15"/>
<rect x="420.00" y="232.70" width="4.2" height="4.2" fill="none" stroke="#111" stroke-width="1.15"/>
<rect x="422.50" y="232.70" width="4.2" height="4.2" fill="none" stroke="#111" stroke-width="1.15"/>
<rect x="425.00" y="232.70" width="4.2" height="4.2" fill="none" stroke="#111" stroke-width="1.15"/>
<rect x="427.50" y="232.70" width="4.2" height="4.2" fill="none" stroke="#111" stroke-width="1.15"/>
<rect x="430.00" y="232.70" width="4.2" height="4.2" fill="none" stroke="#111" stroke-width="1.15"/>
<rect x="432.50" y="232.70" width="4.2" height="4.2" fill="none" stroke="#111" stroke-width="1.15"/>
<rect x="435.00" y="232.70" width="4.2" height="4.2" fill="none" stroke="#111" stroke-width="1.15"/>
<rect x="437.50" y="232.70" width="4.2" height="4.2" fill="none" stroke="#111" stroke-width="1.15"/>
<line x1="401.90" y1="214.30" x2="442.10" y2="214.30" stroke="#111" stroke-width="1.6"/>
<line x1="412.10" y1="209.70" x2="432.50" y2="209.70" stroke="#111" stroke-width="1.5"/>
<line x1="412.10" y1="219.20" x2="432.50" y2="219.20" stroke="#111" stroke-width="1.5"/>
<line x1="422.00" y1="209.70" x2="422.00" y2="219.20" stroke="#111" stroke-width="1.5"/>
<polygon points="483.30,61.90 485.60,66.10 481.00,66.10" fill="none" stroke="#111" stroke-width="1.1" stroke-linejoin="miter"/>
<polygon points="486.70,67.90 489.00,72.10 484.40,72.10" fill="none" stroke="#111" stroke-width="1.1" stroke-linejoin="miter"/>
<polygon points="479.70,70.10 482.00,74.30 477.40,74.30" fill="none" stroke="#111" stroke-width="1.1" stroke-linejoin="miter"/>
<polygon points="479.70,75.70 482.00,79.90 477.40,79.90" fill="none" stroke="#111" stroke-width="1.1" stroke-linejoin="miter"/>
<polygon points="486.80,80.30 489.10,84.50 484.50,84.50" fill="none" stroke="#111" stroke-width="1.1" stroke-linejoin="miter"/>
<polygon points="476.30,103.90 478.60,108.10 474.00,108.10" fill="none" stroke="#111" stroke-width="1.1" stroke-linejoin="miter"/>
<polygon points="483.20,105.90 485.50,110.10 480.90,110.10" fill="none" stroke="#111" stroke-width="1.1" stroke-linejoin="miter"/>
<polygon points="490.20,105.90 492.50,110.10 487.90,110.10" fill="none" stroke="#111" stroke-width="1.1" stroke-linejoin="miter"/>
<polygon points="479.70,115.50 482.00,119.70 477.40,119.70" fill="none" stroke="#111" stroke-width="1.1" stroke-linejoin="miter"/>
<polygon points="486.70,121.70 489.00,125.90 484.40,125.90" fill="none" stroke="#111" stroke-width="1.1" stroke-linejoin="miter"/>
<polygon points="476.30,128.30 478.60,132.50 474.00,132.50" fill="none" stroke="#111" stroke-width="1.1" stroke-linejoin="miter"/>
<polygon points="483.30,134.00 485.60,138.20 481.00,138.20" fill="none" stroke="#111" stroke-width="1.1" stroke-linejoin="miter"/>
<polygon points="490.20,132.50 492.50,136.70 487.90,136.70" fill="none" stroke="#111" stroke-width="1.1" stroke-linejoin="miter"/>
<polygon points="490.20,136.70 492.50,140.90 487.90,140.90" fill="none" stroke="#111" stroke-width="1.1" stroke-linejoin="miter"/>
<polygon points="476.30,138.10 478.60,142.30 474.00,142.30" fill="none" stroke="#111" stroke-width="1.1" stroke-linejoin="miter"/>
<polygon points="483.30,141.50 485.60,145.70 481.00,145.70" fill="none" stroke="#111" stroke-width="1.1" stroke-linejoin="miter"/>
<polygon points="479.80,143.60 482.10,147.80 477.50,147.80" fill="none" stroke="#111" stroke-width="1.1" stroke-linejoin="miter"/>
<polygon points="486.70,143.60 489.00,147.80 484.40,147.80" fill="none" stroke="#111" stroke-width="1.1" stroke-linejoin="miter"/>
<polygon points="466.00,144.80 468.30,149.00 463.70,149.00" fill="none" stroke="#111" stroke-width="1.1" stroke-linejoin="miter"/>
<polygon points="500.60,144.40 502.90,148.60 498.30,148.60" fill="none" stroke="#111" stroke-width="1.1" stroke-linejoin="miter"/>
<polygon points="472.90,149.60 475.20,153.80 470.60,153.80" fill="none" stroke="#111" stroke-width="1.1" stroke-linejoin="miter"/>
<polygon points="479.80,149.90 482.10,154.10 477.50,154.10" fill="none" stroke="#111" stroke-width="1.1" stroke-linejoin="miter"/>
<polygon points="486.70,149.90 489.00,154.10 484.40,154.10" fill="none" stroke="#111" stroke-width="1.1" stroke-linejoin="miter"/>
<polygon points="493.65,148.20 495.95,152.40 491.35,152.40" fill="none" stroke="#111" stroke-width="1.1" stroke-linejoin="miter"/>
<polygon points="490.20,155.20 492.50,159.40 487.90,159.40" fill="none" stroke="#111" stroke-width="1.1" stroke-linejoin="miter"/>
<polygon points="476.30,158.30 478.60,162.50 474.00,162.50" fill="none" stroke="#111" stroke-width="1.1" stroke-linejoin="miter"/>
<polygon points="483.30,158.30 485.60,162.50 481.00,162.50" fill="none" stroke="#111" stroke-width="1.1" stroke-linejoin="miter"/>
<polygon points="476.30,166.20 478.60,170.40 474.00,170.40" fill="none" stroke="#111" stroke-width="1.1" stroke-linejoin="miter"/>
<polygon points="490.20,166.20 492.50,170.40 487.90,170.40" fill="none" stroke="#111" stroke-width="1.1" stroke-linejoin="miter"/>
<polygon points="483.30,169.10 485.60,173.30 481.00,173.30" fill="none" stroke="#111" stroke-width="1.1" stroke-linejoin="miter"/>
<polygon points="472.90,172.50 475.20,176.70 470.60,176.70" fill="none" stroke="#111" stroke-width="1.1" stroke-linejoin="miter"/>
<polygon points="493.65,173.70 495.95,177.90 491.35,177.90" fill="none" stroke="#111" stroke-width="1.1" stroke-linejoin="miter"/>
<polygon points="479.80,175.20 482.10,179.40 477.50,179.40" fill="none" stroke="#111" stroke-width="1.1" stroke-linejoin="miter"/>
<polygon points="486.70,176.80 489.00,181.00 484.40,181.00" fill="none" stroke="#111" stroke-width="1.1" stroke-linejoin="miter"/>
<polygon points="479.80,181.70 482.10,185.90 477.50,185.90" fill="none" stroke="#111" stroke-width="1.1" stroke-linejoin="miter"/>
<polygon points="469.40,184.90 471.70,189.10 467.10,189.10" fill="none" stroke="#111" stroke-width="1.1" stroke-linejoin="miter"/>
<polygon points="476.30,185.80 478.60,190.00 474.00,190.00" fill="none" stroke="#111" stroke-width="1.1" stroke-linejoin="miter"/>
<polygon points="486.70,184.00 489.00,188.20 484.40,188.20" fill="none" stroke="#111" stroke-width="1.1" stroke-linejoin="miter"/>
<polygon points="483.30,186.35 485.60,190.55 481.00,190.55" fill="none" stroke="#111" stroke-width="1.1" stroke-linejoin="miter"/>
<polygon points="490.20,186.70 492.50,190.90 487.90,190.90" fill="none" stroke="#111" stroke-width="1.1" stroke-linejoin="miter"/>
<polygon points="497.10,184.90 499.40,189.10 494.80,189.10" fill="none" stroke="#111" stroke-width="1.1" stroke-linejoin="miter"/>
<polygon points="476.30,191.00 478.60,195.20 474.00,195.20" fill="none" stroke="#111" stroke-width="1.1" stroke-linejoin="miter"/>
<polygon points="483.30,194.40 485.60,198.60 481.00,198.60" fill="none" stroke="#111" stroke-width="1.1" stroke-linejoin="miter"/>
<polygon points="483.30,206.00 485.60,210.20 481.00,210.20" fill="none" stroke="#111" stroke-width="1.1" stroke-linejoin="miter"/>
<polygon points="490.20,219.70 492.50,223.90 487.90,223.90" fill="none" stroke="#111" stroke-width="1.1" stroke-linejoin="miter"/>
<polygon points="476.30,222.50 478.60,226.70 474.00,226.70" fill="none" stroke="#111" stroke-width="1.1" stroke-linejoin="miter"/>
<polygon points="466.50,231.90 468.80,236.10 464.20,236.10" fill="#111" stroke="#111" stroke-width="1.1" stroke-linejoin="miter"/>
<polygon points="468.80,231.90 471.10,236.10 466.50,236.10" fill="#111" stroke="#111" stroke-width="1.1" stroke-linejoin="miter"/>
<polygon points="471.10,231.90 473.40,236.10 468.80,236.10" fill="#111" stroke="#111" stroke-width="1.1" stroke-linejoin="miter"/>
<polygon points="473.40,231.90 475.70,236.10 471.10,236.10" fill="#111" stroke="#111" stroke-width="1.1" stroke-linejoin="miter"/>
<polygon points="475.70,231.90 478.00,236.10 473.40,236.10" fill="#111" stroke="#111" stroke-width="1.1" stroke-linejoin="miter"/>
<polygon points="478.00,231.90 480.30,236.10 475.70,236.10" fill="#111" stroke="#111" stroke-width="1.1" stroke-linejoin="miter"/>
<polygon points="480.30,231.90 482.60,236.10 478.00,236.10" fill="#111" stroke="#111" stroke-width="1.1" stroke-linejoin="miter"/>
<polygon points="482.60,231.90 484.90,236.10 480.30,236.10" fill="#111" stroke="#111" stroke-width="1.1" stroke-linejoin="miter"/>
<polygon points="484.90,231.90 487.20,236.10 482.60,236.10" fill="#111" stroke="#111" stroke-width="1.1" stroke-linejoin="miter"/>
<polygon points="487.20,231.90 489.50,236.10 484.90,236.10" fill="#111" stroke="#111" stroke-width="1.1" stroke-linejoin="miter"/>
<polygon points="489.50,231.90 491.80,236.10 487.20,236.10" fill="#111" stroke="#111" stroke-width="1.1" stroke-linejoin="miter"/>
<polygon points="491.80,231.90 494.10,236.10 489.50,236.10" fill="#111" stroke="#111" stroke-width="1.1" stroke-linejoin="miter"/>
<polygon points="494.10,231.90 496.40,236.10 491.80,236.10" fill="#111" stroke="#111" stroke-width="1.1" stroke-linejoin="miter"/>
<polygon points="496.40,231.90 498.70,236.10 494.10,236.10" fill="#111" stroke="#111" stroke-width="1.1" stroke-linejoin="miter"/>
<polygon points="498.70,231.90 501.00,236.10 496.40,236.10" fill="#111" stroke="#111" stroke-width="1.1" stroke-linejoin="miter"/>
<polygon points="501.00,231.90 503.30,236.10 498.70,236.10" fill="#111" stroke="#111" stroke-width="1.1" stroke-linejoin="miter"/>
<polygon points="467.00,230.30 469.30,234.50 464.70,234.50" fill="#111" stroke="#111" stroke-width="1.1" stroke-linejoin="miter"/>
<polygon points="470.45,230.30 472.75,234.50 468.15,234.50" fill="#111" stroke="#111" stroke-width="1.1" stroke-linejoin="miter"/>
<polygon points="473.90,230.30 476.20,234.50 471.60,234.50" fill="#111" stroke="#111" stroke-width="1.1" stroke-linejoin="miter"/>
<polygon points="477.35,230.30 479.65,234.50 475.05,234.50" fill="#111" stroke="#111" stroke-width="1.1" stroke-linejoin="miter"/>
<polygon points="480.80,230.30 483.10,234.50 478.50,234.50" fill="#111" stroke="#111" stroke-width="1.1" stroke-linejoin="miter"/>
<polygon points="484.25,230.30 486.55,234.50 481.95,234.50" fill="#111" stroke="#111" stroke-width="1.1" stroke-linejoin="miter"/>
<polygon points="487.70,230.30 490.00,234.50 485.40,234.50" fill="#111" stroke="#111" stroke-width="1.1" stroke-linejoin="miter"/>
<polygon points="491.15,230.30 493.45,234.50 488.85,234.50" fill="#111" stroke="#111" stroke-width="1.1" stroke-linejoin="miter"/>
<polygon points="494.60,230.30 496.90,234.50 492.30,234.50" fill="#111" stroke="#111" stroke-width="1.1" stroke-linejoin="miter"/>
<polygon points="498.05,230.30 500.35,234.50 495.75,234.50" fill="#111" stroke="#111" stroke-width="1.1" stroke-linejoin="miter"/>
<polygon points="468.80,228.50 471.10,232.70 466.50,232.70" fill="#111" stroke="#111" stroke-width="1.1" stroke-linejoin="miter"/>
<polygon points="475.75,228.50 478.05,232.70 473.45,232.70" fill="#111" stroke="#111" stroke-width="1.1" stroke-linejoin="miter"/>
<polygon points="482.70,228.50 485.00,232.70 480.40,232.70" fill="#111" stroke="#111" stroke-width="1.1" stroke-linejoin="miter"/>
<polygon points="489.65,228.50 491.95,232.70 487.35,232.70" fill="#111" stroke="#111" stroke-width="1.1" stroke-linejoin="miter"/>
<polygon points="496.60,228.50 498.90,232.70 494.30,232.70" fill="#111" stroke="#111" stroke-width="1.1" stroke-linejoin="miter"/>
<polygon points="483.30,226.00 485.60,230.20 481.00,230.20" fill="#111" stroke="#111" stroke-width="1.1" stroke-linejoin="miter"/>
<line x1="463.30" y1="182.10" x2="503.50" y2="182.10" stroke="#111" stroke-width="1.6"/>
<line x1="471.20" y1="173.70" x2="494.20" y2="173.70" stroke="#111" stroke-width="1.5"/>
<line x1="471.20" y1="189.80" x2="494.20" y2="189.80" stroke="#111" stroke-width="1.5"/>
<line x1="483.30" y1="173.70" x2="483.30" y2="189.80" stroke="#111" stroke-width="1.5"/>
<circle cx="136.50" cy="323.20" r="2.8" fill="none" stroke="#111" stroke-width="1.1"/>
<circle cx="112.20" cy="370.90" r="2.8" fill="none" stroke="#111" stroke-width="1.1"/>
<circle cx="149.80" cy="390.40" r="2.8" fill="none" stroke="#111" stroke-width="1.1"/>
<circle cx="238.85" cy="401.80" r="2.8" fill="none" stroke="#111" stroke-width="1.1"/>
<circle cx="82.30" cy="414.60" r="2.8" fill="none" stroke="#111" stroke-width="1.1"/>
<circle cx="127.50" cy="426.30" r="2.8" fill="none" stroke="#111" stroke-width="1.1"/>
<circle cx="140.60" cy="423.50" r="2.8" fill="none" stroke="#111" stroke-width="1.1"/>
<circle cx="116.20" cy="435.25" r="2.8" fill="none" stroke="#111" stroke-width="1.1"/>
<circle cx="113.10" cy="440.10" r="2.8" fill="none" stroke="#111" stroke-width="1.1"/>
<circle cx="110.00" cy="441.30" r="2.8" fill="none" stroke="#111" stroke-width="1.1"/>
<circle cx="141.00" cy="441.60" r="2.8" fill="none" stroke="#111" stroke-width="1.1"/>
<circle cx="98.00" cy="450.10" r="2.8" fill="none" stroke="#111" stroke-width="1.1"/>
<circle cx="126.50" cy="452.80" r="2.8" fill="none" stroke="#111" stroke-width="1.1"/>
<circle cx="126.30" cy="453.40" r="2.8" fill="none" stroke="#111" stroke-width="1.1"/>
<circle cx="156.20" cy="451.80" r="2.8" fill="none" stroke="#111" stroke-width="1.1"/>
<circle cx="148.60" cy="456.50" r="2.8" fill="none" stroke="#111" stroke-width="1.1"/>
<circle cx="165.70" cy="454.60" r="2.8" fill="none" stroke="#111" stroke-width="1.1"/>
<circle cx="178.85" cy="456.15" r="2.8" fill="none" stroke="#111" stroke-width="1.1"/>
<circle cx="95.40" cy="466.20" r="2.8" fill="none" stroke="#111" stroke-width="1.1"/>
<circle cx="126.90" cy="464.50" r="2.8" fill="none" stroke="#111" stroke-width="1.1"/>
<circle cx="130.00" cy="465.70" r="2.8" fill="none" stroke="#111" stroke-width="1.1"/>
<circle cx="155.00" cy="468.00" r="2.8" fill="none" stroke="#111" stroke-width="1.1"/>
<circle cx="161.50" cy="464.80" r="2.8" fill="none" stroke="#111" stroke-width="1.1"/>
<circle cx="118.30" cy="469.20" r="2.8" fill="none" stroke="#111" stroke-width="1.1"/>
<circle cx="154.80" cy="468.30" r="2.8" fill="none" stroke="#111" stroke-width="1.1"/>
<circle cx="103.60" cy="472.30" r="2.8" fill="none" stroke="#111" stroke-width="1.1"/>
<circle cx="108.75" cy="472.30" r="2.8" fill="none" stroke="#111" stroke-width="1.1"/>
<circle cx="109.30" cy="475.80" r="2.8" fill="none" stroke="#111" stroke-width="1.1"/>
<circle cx="86.25" cy="480.10" r="2.8" fill="none" stroke="#111" stroke-width="1.1"/>
<circle cx="92.30" cy="484.40" r="2.8" fill="none" stroke="#111" stroke-width="1.1"/>
<circle cx="95.40" cy="483.00" r="2.8" fill="none" stroke="#111" stroke-width="1.1"/>
<circle cx="97.50" cy="487.50" r="2.8" fill="none" stroke="#111" stroke-width="1.1"/>
<circle cx="90.20" cy="490.50" r="2.8" fill="none" stroke="#111" stroke-width="1.1"/>
<circle cx="103.60" cy="481.00" r="2.8" fill="none" stroke="#111" stroke-width="1.1"/>
<circle cx="105.80" cy="480.60" r="2.8" fill="none" stroke="#111" stroke-width="1.1"/>
<circle cx="107.00" cy="483.55" r="2.8" fill="none" stroke="#111" stroke-width="1.1"/>
<circle cx="112.70" cy="485.80" r="2.8" fill="none" stroke="#111" stroke-width="1.1"/>
<circle cx="117.40" cy="475.80" r="2.8" fill="none" stroke="#111" stroke-width="1.1"/>
<circle cx="117.90" cy="479.20" r="2.8" fill="none" stroke="#111" stroke-width="1.1"/>
<circle cx="117.40" cy="489.60" r="2.8" fill="none" stroke="#111" stroke-width="1.1"/>
<circle cx="120.30" cy="482.70" r="2.8" fill="none" stroke="#111" stroke-width="1.1"/>
<circle cx="122.10" cy="485.30" r="2.8" fill="none" stroke="#111" stroke-width="1.1"/>
<circle cx="125.20" cy="478.90" r="2.8" fill="none" stroke="#111" stroke-width="1.1"/>
<circle cx="129.00" cy="486.15" r="2.8" fill="none" stroke="#111" stroke-width="1.1"/>
<circle cx="132.10" cy="473.70" r="2.8" fill="none" stroke="#111" stroke-width="1.1"/>
<circle cx="135.60" cy="471.40" r="2.8" fill="none" stroke="#111" stroke-width="1.1"/>
<circle cx="134.70" cy="477.50" r="2.8" fill="none" stroke="#111" stroke-width="1.1"/>
<circle cx="138.20" cy="474.90" r="2.8" fill="none" stroke="#111" stroke-width="1.1"/>
<circle cx="139.40" cy="477.50" r="2.8" fill="none" stroke="#111" stroke-width="1.1"/>
<circle cx="139.90" cy="485.80" r="2.8" fill="none" stroke="#111" stroke-width="1.1"/>
<circle cx="147.70" cy="474.90" r="2.8" fill="none" stroke="#111" stroke-width="1.1"/>
<circle cx="144.20" cy="480.10" r="2.8" fill="none" stroke="#111" stroke-width="1.1"/>
<circle cx="146.80" cy="480.10" r="2.8" fill="none" stroke="#111" stroke-width="1.1"/>
<circle cx="150.30" cy="475.80" r="2.8" fill="none" stroke="#111" stroke-width="1.1"/>
<circle cx="152.90" cy="481.00" r="2.8" fill="none" stroke="#111" stroke-width="1.1"/>
<circle cx="155.00" cy="481.80" r="2.8" fill="none" stroke="#111" stroke-width="1.1"/>
<circle cx="157.20" cy="481.00" r="2.8" fill="none" stroke="#111" stroke-width="1.1"/>
<circle cx="159.50" cy="481.80" r="2.8" fill="none" stroke="#111" stroke-width="1.1"/>
<circle cx="155.00" cy="483.55" r="2.8" fill="none" stroke="#111" stroke-width="1.1"/>
<circle cx="151.00" cy="476.00" r="2.8" fill="none" stroke="#111" stroke-width="1.1"/>
<circle cx="154.80" cy="480.80" r="2.8" fill="none" stroke="#111" stroke-width="1.1"/>
<circle cx="157.70" cy="481.70" r="2.8" fill="none" stroke="#111" stroke-width="1.1"/>
<circle cx="158.65" cy="479.80" r="2.8" fill="none" stroke="#111" stroke-width="1.1"/>
<circle cx="154.80" cy="483.65" r="2.8" fill="none" stroke="#111" stroke-width="1.1"/>
<line x1="82.80" y1="472.65" x2="237.50" y2="439.40" stroke="#111" stroke-width="1.7"/>
<circle cx="466.90" cy="358.15" r="2.55" fill="none" stroke="#111" stroke-width="1.1"/>
<circle cx="460.50" cy="381.20" r="2.55" fill="none" stroke="#111" stroke-width="1.1"/>
<circle cx="481.85" cy="423.85" r="2.55" fill="none" stroke="#111" stroke-width="1.1"/>
<circle cx="434.15" cy="430.30" r="2.55" fill="none" stroke="#111" stroke-width="1.1"/>
<circle cx="446.90" cy="428.50" r="2.55" fill="none" stroke="#111" stroke-width="1.1"/>
<circle cx="328.60" cy="404.80" r="2.55" fill="none" stroke="#111" stroke-width="1.1"/>
<circle cx="383.20" cy="405.40" r="2.55" fill="none" stroke="#111" stroke-width="1.1"/>
<circle cx="330.20" cy="414.50" r="2.55" fill="none" stroke="#111" stroke-width="1.1"/>
<circle cx="329.50" cy="416.40" r="2.55" fill="none" stroke="#111" stroke-width="1.1"/>
<circle cx="328.80" cy="417.60" r="2.55" fill="none" stroke="#111" stroke-width="1.1"/>
<circle cx="351.90" cy="426.30" r="2.55" fill="none" stroke="#111" stroke-width="1.1"/>
<circle cx="358.90" cy="432.00" r="2.55" fill="none" stroke="#111" stroke-width="1.1"/>
<circle cx="361.30" cy="437.40" r="2.55" fill="none" stroke="#111" stroke-width="1.1"/>
<circle cx="328.50" cy="444.60" r="2.55" fill="none" stroke="#111" stroke-width="1.1"/>
<circle cx="328.50" cy="448.60" r="2.55" fill="none" stroke="#111" stroke-width="1.1"/>
<circle cx="329.00" cy="452.70" r="2.55" fill="none" stroke="#111" stroke-width="1.1"/>
<circle cx="333.60" cy="455.60" r="2.55" fill="none" stroke="#111" stroke-width="1.1"/>
<circle cx="329.20" cy="458.80" r="2.55" fill="none" stroke="#111" stroke-width="1.1"/>
<circle cx="334.40" cy="456.70" r="2.55" fill="none" stroke="#111" stroke-width="1.1"/>
<circle cx="346.40" cy="449.30" r="2.55" fill="none" stroke="#111" stroke-width="1.1"/>
<circle cx="357.50" cy="449.20" r="2.55" fill="none" stroke="#111" stroke-width="1.1"/>
<circle cx="354.40" cy="454.10" r="2.55" fill="none" stroke="#111" stroke-width="1.1"/>
<circle cx="378.70" cy="447.60" r="2.55" fill="none" stroke="#111" stroke-width="1.1"/>
<circle cx="344.50" cy="460.80" r="2.55" fill="none" stroke="#111" stroke-width="1.1"/>
<circle cx="347.50" cy="458.50" r="2.55" fill="none" stroke="#111" stroke-width="1.1"/>
<circle cx="347.70" cy="462.50" r="2.55" fill="none" stroke="#111" stroke-width="1.1"/>
<circle cx="350.90" cy="464.00" r="2.55" fill="none" stroke="#111" stroke-width="1.1"/>
<circle cx="354.60" cy="459.60" r="2.55" fill="none" stroke="#111" stroke-width="1.1"/>
<circle cx="361.00" cy="457.30" r="2.55" fill="none" stroke="#111" stroke-width="1.1"/>
<circle cx="364.40" cy="456.15" r="2.55" fill="none" stroke="#111" stroke-width="1.1"/>
<circle cx="366.70" cy="455.00" r="2.55" fill="none" stroke="#111" stroke-width="1.1"/>
<circle cx="366.15" cy="459.00" r="2.55" fill="none" stroke="#111" stroke-width="1.1"/>
<circle cx="371.90" cy="459.85" r="2.55" fill="none" stroke="#111" stroke-width="1.1"/>
<circle cx="359.80" cy="460.50" r="2.55" fill="none" stroke="#111" stroke-width="1.1"/>
<circle cx="361.50" cy="466.00" r="2.55" fill="none" stroke="#111" stroke-width="1.1"/>
<circle cx="363.80" cy="464.20" r="2.55" fill="none" stroke="#111" stroke-width="1.1"/>
<circle cx="365.60" cy="466.50" r="2.55" fill="none" stroke="#111" stroke-width="1.1"/>
<circle cx="363.30" cy="468.85" r="2.55" fill="none" stroke="#111" stroke-width="1.1"/>
<circle cx="360.40" cy="468.30" r="2.55" fill="none" stroke="#111" stroke-width="1.1"/>
<circle cx="339.00" cy="472.80" r="2.55" fill="none" stroke="#111" stroke-width="1.1"/>
<circle cx="345.40" cy="470.20" r="2.55" fill="none" stroke="#111" stroke-width="1.1"/>
<circle cx="347.50" cy="472.30" r="2.55" fill="none" stroke="#111" stroke-width="1.1"/>
<circle cx="347.10" cy="474.60" r="2.55" fill="none" stroke="#111" stroke-width="1.1"/>
<circle cx="353.50" cy="473.20" r="2.55" fill="none" stroke="#111" stroke-width="1.1"/>
<circle cx="351.20" cy="466.80" r="2.55" fill="none" stroke="#111" stroke-width="1.1"/>
<circle cx="343.10" cy="480.20" r="2.55" fill="none" stroke="#111" stroke-width="1.1"/>
<circle cx="346.00" cy="477.50" r="2.55" fill="none" stroke="#111" stroke-width="1.1"/>
<circle cx="357.50" cy="482.70" r="2.55" fill="none" stroke="#111" stroke-width="1.1"/>
<circle cx="367.90" cy="481.00" r="2.55" fill="none" stroke="#111" stroke-width="1.1"/>
<circle cx="369.85" cy="485.90" r="2.55" fill="none" stroke="#111" stroke-width="1.1"/>
<circle cx="374.20" cy="470.60" r="2.55" fill="none" stroke="#111" stroke-width="1.1"/>
<circle cx="377.70" cy="468.30" r="2.55" fill="none" stroke="#111" stroke-width="1.1"/>
<circle cx="377.70" cy="472.90" r="2.55" fill="none" stroke="#111" stroke-width="1.1"/>
<circle cx="333.30" cy="475.80" r="2.55" fill="none" stroke="#111" stroke-width="1.1"/>
<circle cx="332.30" cy="486.60" r="2.55" fill="none" stroke="#111" stroke-width="1.1"/>
<circle cx="371.70" cy="459.80" r="2.55" fill="none" stroke="#111" stroke-width="1.1"/>
<circle cx="378.30" cy="467.15" r="2.55" fill="none" stroke="#111" stroke-width="1.1"/>
<circle cx="374.40" cy="471.00" r="2.55" fill="none" stroke="#111" stroke-width="1.1"/>
<circle cx="378.65" cy="472.90" r="2.55" fill="none" stroke="#111" stroke-width="1.1"/>
<circle cx="370.60" cy="486.00" r="2.55" fill="none" stroke="#111" stroke-width="1.1"/>
<circle cx="332.70" cy="475.20" r="2.55" fill="none" stroke="#111" stroke-width="1.1"/>
<circle cx="332.70" cy="480.30" r="2.55" fill="none" stroke="#111" stroke-width="1.1"/>
<circle cx="342.80" cy="480.30" r="2.55" fill="none" stroke="#111" stroke-width="1.1"/>
<circle cx="328.14" cy="466.84" r="2.55" fill="none" stroke="#111" stroke-width="1.1"/>
<circle cx="329.82" cy="466.88" r="2.55" fill="none" stroke="#111" stroke-width="1.1"/>
<circle cx="328.38" cy="467.85" r="2.55" fill="none" stroke="#111" stroke-width="1.1"/>
<circle cx="329.61" cy="468.47" r="2.55" fill="none" stroke="#111" stroke-width="1.1"/>
<circle cx="328.16" cy="469.39" r="2.55" fill="none" stroke="#111" stroke-width="1.1"/>
<circle cx="330.20" cy="469.58" r="2.55" fill="none" stroke="#111" stroke-width="1.1"/>
<circle cx="328.50" cy="470.98" r="2.55" fill="none" stroke="#111" stroke-width="1.1"/>
<circle cx="329.98" cy="470.72" r="2.55" fill="none" stroke="#111" stroke-width="1.1"/>
<circle cx="328.38" cy="472.69" r="2.55" fill="none" stroke="#111" stroke-width="1.1"/>
<circle cx="329.91" cy="472.59" r="2.55" fill="none" stroke="#111" stroke-width="1.1"/>
<circle cx="328.40" cy="473.45" r="2.55" fill="none" stroke="#111" stroke-width="1.1"/>
<circle cx="330.05" cy="473.87" r="2.55" fill="none" stroke="#111" stroke-width="1.1"/>
<circle cx="328.18" cy="474.82" r="2.55" fill="none" stroke="#111" stroke-width="1.1"/>
<circle cx="330.12" cy="475.18" r="2.55" fill="none" stroke="#111" stroke-width="1.1"/>
<circle cx="328.43" cy="476.90" r="2.55" fill="none" stroke="#111" stroke-width="1.1"/>
<circle cx="330.03" cy="476.94" r="2.55" fill="none" stroke="#111" stroke-width="1.1"/>
<circle cx="328.24" cy="478.24" r="2.55" fill="none" stroke="#111" stroke-width="1.1"/>
<circle cx="329.87" cy="478.35" r="2.55" fill="none" stroke="#111" stroke-width="1.1"/>
<circle cx="328.53" cy="479.08" r="2.55" fill="none" stroke="#111" stroke-width="1.1"/>
<circle cx="329.68" cy="479.17" r="2.55" fill="none" stroke="#111" stroke-width="1.1"/>
<circle cx="328.58" cy="480.75" r="2.55" fill="none" stroke="#111" stroke-width="1.1"/>
<circle cx="329.98" cy="480.64" r="2.55" fill="none" stroke="#111" stroke-width="1.1"/>
<circle cx="328.30" cy="482.11" r="2.55" fill="none" stroke="#111" stroke-width="1.1"/>
<circle cx="329.81" cy="482.27" r="2.55" fill="none" stroke="#111" stroke-width="1.1"/>
<circle cx="328.35" cy="483.92" r="2.55" fill="none" stroke="#111" stroke-width="1.1"/>
<circle cx="330.01" cy="483.94" r="2.55" fill="none" stroke="#111" stroke-width="1.1"/>
<circle cx="328.51" cy="485.39" r="2.55" fill="none" stroke="#111" stroke-width="1.1"/>
<circle cx="330.00" cy="484.73" r="2.55" fill="none" stroke="#111" stroke-width="1.1"/>
<circle cx="328.52" cy="486.77" r="2.55" fill="none" stroke="#111" stroke-width="1.1"/>
<circle cx="330.14" cy="486.46" r="2.55" fill="none" stroke="#111" stroke-width="1.1"/>
<circle cx="328.43" cy="487.57" r="2.55" fill="none" stroke="#111" stroke-width="1.1"/>
<circle cx="330.10" cy="487.86" r="2.55" fill="none" stroke="#111" stroke-width="1.1"/>
<line x1="328.50" y1="472.20" x2="480.00" y2="400.80" stroke="#111" stroke-width="1.7"/>
</svg>
</body></html>
